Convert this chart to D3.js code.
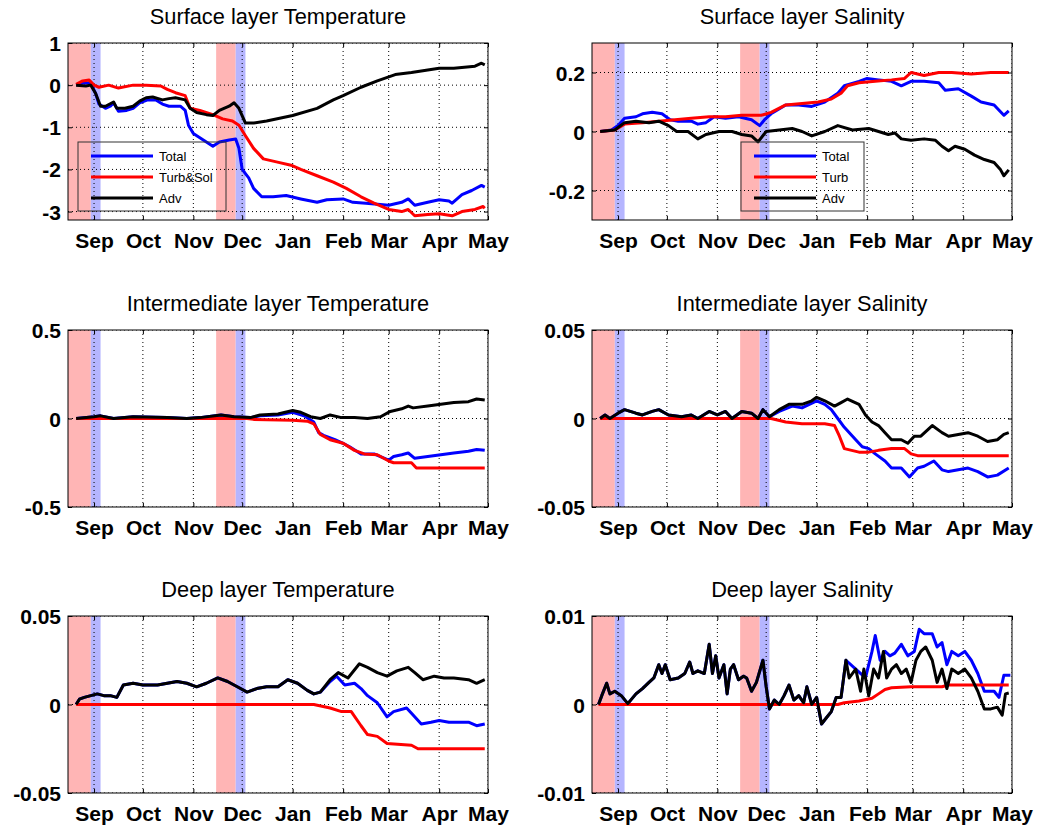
<!DOCTYPE html>
<html>
<head>
<meta charset="utf-8">
<script src="https://cdn.jsdelivr.net/npm/d3@7"></script>
<style>
  body { margin: 0; background: #fff; }
  text { font-family: "Liberation Sans", Arial, sans-serif; }
</style>
</head>
<body>
<svg id="chart" width="1053" height="827"></svg>
<script>
// time axis: days counted from 16 Aug 2012
const startDate = new Date(2012, 7, 16);
const endDate = new Date(2013, 4, 1);
const monthLabels = ["Sep", "Oct", "Nov", "Dec", "Jan", "Feb", "Mar", "Apr", "May"];

// shaded periods [fromDay, toDay]
const pinkPeriods = [[0, 14], [91, 103]];
const bluePeriods = [[14, 20], [103, 109]];

// Surface layer Temperature
const tempSurfTotal = [[5,0],[9,0.05],[14,0.05],[17,-0.2],[19,-0.45],[23,-0.55],[26,-0.5],[28,-0.42],[31,-0.62],[36,-0.6],[40,-0.55],[44,-0.42],[49,-0.35],[54,-0.35],[58,-0.45],[62,-0.5],[69,-0.5],[72,-0.6],[74,-0.95],[77,-1.15],[81,-1.25],[85,-1.35],[89,-1.45],[93,-1.35],[99,-1.3],[103,-1.28],[105,-1.5],[107,-2.0],[111,-2.2],[114,-2.45],[119,-2.65],[126,-2.65],[134,-2.62],[143,-2.7],[153,-2.78],[159,-2.72],[169,-2.7],[175,-2.78],[183,-2.8],[197,-2.85],[205,-2.78],[209,-2.7],[213,-2.85],[221,-2.78],[228,-2.72],[234,-2.75],[236,-2.8],[242,-2.6],[248,-2.5],[254,-2.38],[256,-2.42]];
const tempSurfTurb = [[5,0.02],[9,0.1],[13,0.12],[16,0],[19,-0.05],[25,0],[31,-0.07],[40,0],[48,0],[57,-0.02],[61,-0.1],[66,-0.18],[72,-0.25],[75,-0.55],[81,-0.6],[89,-0.7],[95,-0.8],[101,-0.85],[105,-0.95],[109,-1.2],[114,-1.5],[120,-1.75],[128,-1.82],[137,-1.9],[143,-2.0],[153,-2.15],[163,-2.3],[171,-2.45],[180,-2.65],[188,-2.8],[197,-2.95],[205,-3.0],[209,-2.95],[213,-3.1],[221,-3.07],[228,-3.05],[236,-3.1],[242,-3.0],[250,-2.95],[255,-2.88],[256,-2.92]];
const tempSurfAdv = [[5,0],[11,-0.02],[14,0],[17,-0.2],[20,-0.5],[23,-0.5],[28,-0.4],[30,-0.55],[35,-0.55],[40,-0.5],[44,-0.38],[48,-0.3],[52,-0.28],[58,-0.35],[62,-0.32],[66,-0.3],[72,-0.35],[75,-0.55],[79,-0.65],[85,-0.7],[89,-0.72],[93,-0.6],[99,-0.5],[102,-0.42],[105,-0.55],[109,-0.9],[114,-0.9],[122,-0.85],[138,-0.72],[153,-0.55],[163,-0.35],[169,-0.25],[180,-0.05],[190,0.1],[201,0.25],[211,0.3],[228,0.4],[237,0.4],[250,0.45],[254,0.52],[256,0.48]];

// Surface layer Salinity
const salSurfTotal = [[5,0],[12,0.005],[16,0.02],[20,0.045],[27,0.05],[31,0.06],[37,0.065],[43,0.06],[48,0.04],[53,0.035],[61,0.035],[65,0.025],[70,0.03],[75,0.05],[82,0.045],[90,0.05],[98,0.04],[103,0.02],[106,0.04],[110,0.06],[119,0.09],[127,0.09],[135,0.085],[143,0.1],[151,0.13],[155,0.155],[164,0.17],[169,0.18],[176,0.175],[184,0.17],[190,0.155],[196,0.17],[204,0.17],[213,0.165],[217,0.14],[225,0.145],[233,0.12],[239,0.1],[247,0.09],[253,0.055],[256,0.07]];
const salSurfTurb = [[5,0],[14,0.005],[20,0.025],[31,0.03],[41,0.035],[51,0.04],[61,0.045],[72,0.05],[82,0.05],[92,0.055],[104,0.055],[110,0.065],[119,0.09],[129,0.095],[139,0.1],[147,0.11],[153,0.13],[157,0.155],[164,0.165],[174,0.17],[184,0.175],[192,0.18],[196,0.2],[204,0.19],[213,0.2],[221,0.2],[233,0.195],[245,0.2],[256,0.2]];
const salSurfAdv = [[5,0],[14,0.005],[20,0.03],[27,0.035],[35,0.03],[41,0.035],[47,0.02],[52,0],[59,0],[65,-0.025],[70,-0.01],[78,0],[86,0],[92,-0.01],[98,-0.015],[102,-0.035],[107,0],[115,0.005],[123,0.01],[129,0],[135,-0.015],[143,0],[151,0.02],[160,0.005],[170,0.01],[176,0],[182,-0.01],[186,-0.005],[190,-0.025],[196,-0.03],[204,-0.025],[211,-0.03],[215,-0.05],[219,-0.065],[223,-0.05],[229,-0.06],[235,-0.08],[241,-0.095],[247,-0.105],[251,-0.13],[253,-0.15],[256,-0.13]];

// Intermediate layer Temperature
const tempMidAdv = [[5,0],[16,0.01],[20,0.015],[28,0],[40,0.01],[61,0.005],[73,0],[81,0.005],[94,0.02],[102,0.01],[112,0.005],[118,0.02],[129,0.025],[138,0.045],[143,0.035],[149,0.01],[155,0],[161,0.02],[168,0.005],[176,0.005],[184,0],[192,0.01],[198,0.04],[205,0.055],[209,0.07],[212,0.06],[221,0.07],[229,0.08],[237,0.09],[246,0.095],[251,0.11],[256,0.105]];
const tempMidTotalLate = [[118,0.015],[129,0.02],[138,0.035],[145,0.015],[151,-0.02],[154,-0.08],[157,-0.095],[164,-0.12],[169,-0.14],[173,-0.16],[180,-0.2],[188,-0.2],[197,-0.235],[200,-0.215],[205,-0.205],[209,-0.195],[213,-0.225],[221,-0.215],[229,-0.205],[237,-0.195],[246,-0.185],[251,-0.175],[256,-0.18]];
const tempMidTurb = [[5,0],[110,0],[114,-0.005],[138,-0.01],[147,-0.015],[151,-0.03],[155,-0.09],[161,-0.12],[169,-0.14],[176,-0.18],[182,-0.2],[190,-0.205],[197,-0.24],[200,-0.25],[211,-0.25],[214,-0.28],[225,-0.28],[256,-0.28]];

// Intermediate layer Salinity
const salMidAdv = [[5,0],[8,0.002],[11,0],[16,0.003],[20,0.005],[27,0.003],[31,0.002],[37,0.004],[41,0.005],[47,0.002],[55,0.001],[61,0.002],[65,0],[72,0.004],[77,0.002],[82,0.004],[86,0],[92,0.004],[98,0.003],[102,0],[105,0.005],[109,0.001],[115,0.005],[121,0.008],[129,0.008],[135,0.01],[138,0.012],[143,0.01],[149,0.007],[153,0.009],[157,0.011],[164,0.008],[168,0.002],[172,-0.002],[176,-0.004],[180,-0.008],[184,-0.012],[190,-0.012],[194,-0.014],[198,-0.01],[202,-0.01],[209,-0.004],[215,-0.008],[219,-0.01],[225,-0.009],[231,-0.008],[237,-0.01],[243,-0.013],[249,-0.012],[253,-0.009],[256,-0.008]];
const salMidTotalLate = [[115,0.004],[123,0.007],[129,0.006],[138,0.01],[143,0.008],[147,0.005],[151,0],[155,-0.005],[162,-0.012],[166,-0.016],[170,-0.017],[174,-0.02],[180,-0.024],[184,-0.028],[190,-0.028],[195,-0.033],[200,-0.028],[204,-0.027],[210,-0.024],[215,-0.029],[219,-0.03],[225,-0.029],[231,-0.028],[237,-0.03],[243,-0.033],[249,-0.032],[256,-0.028]];
const salMidTurb = [[5,0],[110,0],[119,-0.002],[129,-0.003],[143,-0.003],[149,-0.004],[152,-0.01],[155,-0.017],[164,-0.019],[170,-0.019],[176,-0.018],[184,-0.017],[192,-0.017],[196,-0.02],[200,-0.021],[256,-0.021]];

// Deep layer Temperature
const tempDeepAdv = [[5,0],[7,0.003],[10,0.004],[14,0.005],[18,0.006],[22,0.005],[26,0.005],[30,0.004],[34,0.011],[40,0.012],[46,0.011],[55,0.011],[61,0.012],[67,0.013],[73,0.012],[79,0.01],[85,0.012],[92,0.015],[98,0.013],[104,0.01],[110,0.007],[116,0.009],[122,0.01],[129,0.01],[135,0.014],[141,0.012],[147,0.008],[151,0.006],[155,0.007],[161,0.014],[166,0.018],[172,0.015],[179,0.023],[184,0.021],[190,0.018],[196,0.016],[202,0.019],[209,0.021],[213,0.018],[218,0.014],[225,0.016],[231,0.015],[237,0.015],[246,0.014],[251,0.012],[256,0.014]];
const tempDeepTotalLate = [[161,0.013],[165,0.016],[170,0.011],[176,0.012],[180,0.009],[184,0.005],[190,0.001],[196,-0.007],[200,-0.004],[208,-0.002],[211,-0.005],[217,-0.011],[223,-0.01],[228,-0.009],[234,-0.01],[240,-0.01],[246,-0.01],[251,-0.012],[256,-0.011]];
const tempDeepTurb = [[5,0],[151,0],[161,-0.002],[168,-0.004],[174,-0.004],[180,-0.012],[184,-0.017],[190,-0.018],[196,-0.022],[211,-0.023],[215,-0.025],[256,-0.025]];

// Deep layer Salinity
const salDeepAdv = [[4,0],[6,0.001],[9,0.0024],[11,0.0012],[14,0.0015],[18,0.001],[22,0.0001],[27,0.0012],[31,0.0018],[35,0.0025],[38,0.003],[41,0.0045],[43,0.0035],[45,0.0045],[48,0.0028],[53,0.003],[57,0.0035],[60,0.0048],[62,0.0035],[65,0.0038],[69,0.0035],[72,0.0068],[74,0.0035],[76,0.0055],[78,0.003],[81,0.0045],[83,0.0012],[85,0.004],[87,0.0045],[90,0.0028],[93,0.0032],[95,0.003],[98,0.0015],[101,0.0025],[105,0.005],[107,0.002],[109,-0.0005],[112,0.0005],[115,0],[118,0.001],[121,0.0022],[124,0.0005],[127,0.001],[130,0.0002],[132,0.002],[135,0],[138,0.0008],[141,-0.0022],[144,-0.0015],[147,-0.0008],[150,0.0008],[153,0.0008],[156,0.005],[158,0.003],[162,0.004],[165,0.0015],[167,0.004],[170,0.001],[173,0.004],[176,0.003],[179,0.006],[181,0.003],[184,0.004],[187,0.0045],[190,0.0035],[193,0.004],[196,0.0025],[199,0.005],[202,0.006],[205,0.0065],[209,0.005],[212,0.0025],[215,0.004],[218,0.0018],[221,0.004],[225,0.0035],[229,0.004],[233,0.003],[237,0.0015],[241,-0.0005],[245,-0.0005],[249,-0.0003],[252,-0.0012],[254,0.0012],[256,0.0013]];
const salDeepTotalLate = [[156,0.005],[162,0.004],[168,0.003],[172,0.006],[174,0.0078],[177,0.005],[180,0.006],[183,0.0055],[186,0.0058],[190,0.0068],[194,0.0055],[198,0.006],[201,0.0085],[204,0.008],[209,0.008],[212,0.0065],[215,0.007],[218,0.0045],[221,0.006],[225,0.0055],[229,0.006],[233,0.005],[237,0.0035],[241,0.0015],[247,0.0015],[250,0.0008],[253,0.0033],[257,0.0033]];
const salDeepTurb = [[4,0],[151,0],[155,0.0002],[164,0.0004],[172,0.0007],[176,0.0012],[180,0.0017],[184,0.0019],[196,0.002],[215,0.002],[219,0.0022],[256,0.0022]];

// Total equals Adv until the turbulent term departs from zero
const joinTotal = (adv, late) => adv.filter(d => d[0] < late[0][0]).concat(late);

const panels = [
  { title: "Surface layer Temperature", yDomain: [-3.2, 1], yTicks: [-3, -2, -1, 0, 1],
    series: [tempSurfTotal, tempSurfTurb, tempSurfAdv], legend: ["Total", "Turb&Sol", "Adv"] },
  { title: "Surface layer Salinity", yDomain: [-0.3, 0.3], yTicks: [-0.2, 0, 0.2],
    series: [salSurfTotal, salSurfTurb, salSurfAdv], legend: ["Total", "Turb", "Adv"] },
  { title: "Intermediate layer Temperature", yDomain: [-0.5, 0.5], yTicks: [-0.5, 0, 0.5],
    series: [joinTotal(tempMidAdv, tempMidTotalLate), tempMidTurb, tempMidAdv] },
  { title: "Intermediate layer Salinity", yDomain: [-0.05, 0.05], yTicks: [-0.05, 0, 0.05],
    series: [joinTotal(salMidAdv, salMidTotalLate), salMidTurb, salMidAdv] },
  { title: "Deep layer Temperature", yDomain: [-0.05, 0.05], yTicks: [-0.05, 0, 0.05],
    series: [joinTotal(tempDeepAdv, tempDeepTotalLate), tempDeepTurb, tempDeepAdv] },
  { title: "Deep layer Salinity", yDomain: [-0.01, 0.01], yTicks: [-0.01, 0, 0.01],
    series: [joinTotal(salDeepAdv, salDeepTotalLate), salDeepTurb, salDeepAdv] }
];

const colors = ["#0000ff", "#ff0000", "#000000"];
const W = 420, H = 177;
const cols = [68, 592], rows = [43, 330, 616];
const legendBox = [{ x: 10, w: 148 }, { x: 149, w: 123 }];

const svg = d3.select("#chart");
const day = d => d3.timeDay.offset(startDate, d);
const monthDates = d3.timeMonth.range(new Date(2012, 8, 1), new Date(2013, 4, 2));

const x = d3.scaleTime().domain([startDate, endDate]).range([0, W]);

panels.forEach((p, i) => {
  const g = svg.append("g")
    .attr("transform", `translate(${cols[i % 2]},${rows[Math.floor(i / 2)]})`);
  const y = d3.scaleLinear().domain(p.yDomain).range([H, 0]);

  g.append("clipPath").attr("id", "clip" + i)
    .append("rect").attr("width", W).attr("height", H);
  const plot = g.append("g").attr("clip-path", `url(#clip${i})`);

  // shaded periods
  plot.selectAll(".pink").data(pinkPeriods).join("rect")
    .attr("x", d => x(day(d[0]))).attr("width", d => x(day(d[1])) - x(day(d[0])))
    .attr("y", 0).attr("height", H).attr("fill", "#ffb5b5");
  plot.selectAll(".blue").data(bluePeriods).join("rect")
    .attr("x", d => x(day(d[0]))).attr("width", d => x(day(d[1])) - x(day(d[0])))
    .attr("y", 0).attr("height", H).attr("fill", "#b5b5ff");

  // dotted grid
  plot.selectAll(".vg").data(monthDates).join("line")
    .attr("x1", d => x(d)).attr("x2", d => x(d)).attr("y1", 0).attr("y2", H)
    .attr("stroke", "#000").attr("stroke-width", 1).attr("stroke-dasharray", "1,3");
  plot.selectAll(".hg").data(p.yTicks).join("line")
    .attr("x1", 0).attr("x2", W).attr("y1", d => y(d)).attr("y2", d => y(d))
    .attr("stroke", "#000").attr("stroke-width", 1).attr("stroke-dasharray", "1,3");

  // series lines
  const line = d3.line().x(d => x(day(d[0]))).y(d => y(d[1]));
  p.series.forEach((s, k) => {
    plot.append("path").datum(s).attr("d", line)
      .attr("fill", "none").attr("stroke", colors[k]).attr("stroke-width", 3)
      .attr("stroke-linejoin", "round");
  });

  // axes with inward ticks
  const xb = g.append("g").attr("transform", `translate(0,${H})`)
    .call(d3.axisBottom(x).tickValues(monthDates).tickFormat((d, j) => monthLabels[j]).tickSize(-4).tickPadding(10));
  xb.selectAll("text").attr("font-size", 21).attr("font-weight", "bold")
    .attr("fill", "#000").attr("y", 28).attr("dy", 0);
  g.append("g").call(d3.axisTop(x).tickValues(monthDates).tickFormat("").tickSize(-4));
  const yl = g.append("g")
    .call(d3.axisLeft(y).tickValues(p.yTicks).tickFormat(d => String(d)).tickSize(-4).tickPadding(7));
  yl.selectAll("text").attr("font-size", 21).attr("font-weight", "bold")
    .attr("fill", "#000").attr("dy", "0.36em");
  g.append("g").attr("transform", `translate(${W},0)`)
    .call(d3.axisRight(y).tickValues(p.yTicks).tickFormat("").tickSize(-4));
  g.selectAll(".domain").remove();
  g.selectAll(".tick line").attr("stroke", "#000");

  g.append("rect").attr("width", W).attr("height", H)
    .attr("fill", "none").attr("stroke", "#000").attr("stroke-width", 1);

  g.append("text").attr("x", W / 2).attr("y", -19)
    .attr("text-anchor", "middle").attr("font-size", 21.8).text(p.title);

  if (p.legend) {
    const lb = legendBox[i % 2];
    const lg = g.append("g").attr("transform", `translate(${lb.x},99)`);
    lg.append("rect").attr("width", lb.w).attr("height", 69)
      .attr("fill", "none").attr("stroke", "#333").attr("stroke-width", 1);
    p.legend.forEach((name, k) => {
      const ly = 14 + k * 21;
      lg.append("line").attr("x1", 13).attr("x2", 75).attr("y1", ly).attr("y2", ly)
        .attr("stroke", colors[k]).attr("stroke-width", 3);
      lg.append("text").attr("x", 81).attr("y", ly).attr("dy", "0.36em")
        .attr("font-size", 13).text(name);
    });
  }
});
</script>
</body>
</html>
